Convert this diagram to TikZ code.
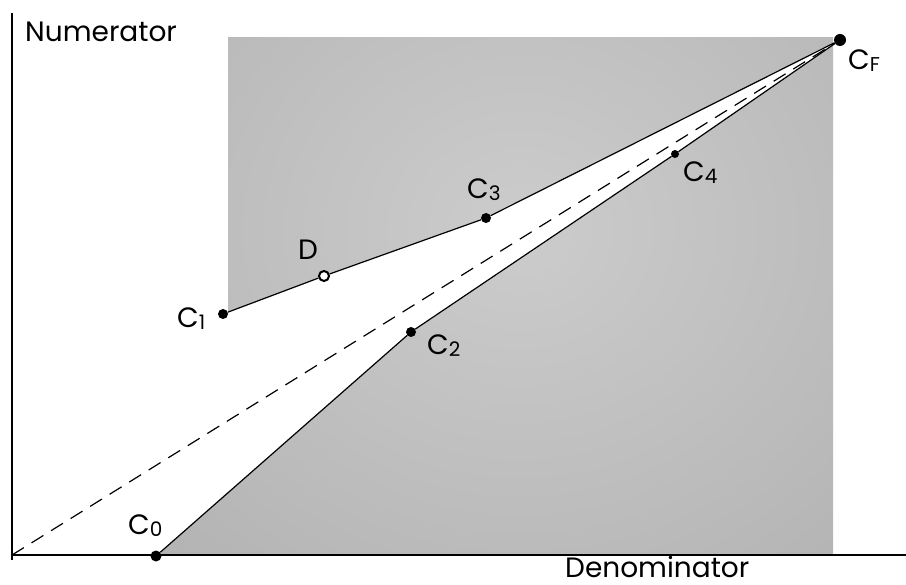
\documentclass[tikz,border=0pt]{standalone}
\usepackage{fontspec}
\setmainfont{Poppins}
\definecolor{plateinner}{gray}{0.80}
\definecolor{plateouter}{gray}{0.60}
\pgfdeclareradialshading{plateshade}{\pgfpoint{0bp}{0bp}}{color(0bp)=(plateinner); color(72bp)=(plateouter); color(80bp)=(plateouter)}
\newcommand{\idx}[1]{\raisebox{-1.5pt}{\fontsize{20}{20}\selectfont #1}}

\begin{document}
\begin{tikzpicture}[x=1pt,y=-1pt,
	dot/.style={circle,fill=black,inner sep=0pt,minimum size=10pt},
	hollow/.style={circle,draw=black,fill=white,line width=2pt,inner sep=0pt,minimum size=10pt},
	tag/.style={anchor=base west,inner sep=0pt,font=\fontsize{28}{28}\selectfont},
	edge/.style={line width=1.2pt},
	axisline/.style={line width=1.6pt}]
	\useasboundingbox (0,0) rectangle (906,585);
	% points of the plot
	\coordinate (o) at (12,555);
	\coordinate (pC0) at (156,556);
	\coordinate (pC1) at (223,314);
	\coordinate (pD) at (324,276);
	\coordinate (pC2) at (411,332);
	\coordinate (pC3) at (486,218);
	\coordinate (pC4) at (675,154);
	\coordinate (pCF) at (840,40);
	
	% shaded plate
	\begin{scope}
		\clip (0,38) rectangle (833,555);
		\clip (pC1) -- (pD) -- (pC3) -- (pCF) -- (906,40) -- (906,0) -- (228,0) -- (228,314) -- cycle
		      (pC0) -- (pC2) -- (pC4) -- (pCF) -- (906,40) -- (906,585) -- (156,585) -- cycle;
		\shade[shading=plateshade] (156,-95) rectangle (884,555);
	\end{scope}
	
	% axes
	\draw[axisline] (12,13) -- (12,560);
	\draw[axisline] (o) -- (906,555);
	
	% points
	\node[dot,minimum size=11pt] (c0) at (pC0) {};
	\node[dot] (c1) at (pC1) {};
	\node[hollow] (d) at (pD) {};
	\node[dot] (c2) at (pC2) {};
	\node[dot] (c3) at (pC3) {};
	\node[dot,minimum size=8pt] (c4) at (pC4) {};
	\node[dot,minimum size=12pt] (cf) at (pCF) {};
	
	% bounds
	\draw[edge] (c1) -- (d) -- (c3) -- (cf);
	\draw[edge] (c0) -- (c2) -- (c4) -- (cf);
	\draw[edge,dash pattern=on 14pt off 9pt] (o) -- (cf);
	
	% labels
	\node[tag] (num) at (25,42) {Numerator};
	\node[tag] (den) at (565,577) {Denominator};
	\node[tag] (lc0) at (128,535) {C\idx{0}};
	\node[tag] (lc1) at (177,328) {C\idx{1}};
	\node[tag] (ld) at (298,260) {D};
	\node[tag] (lc2) at (427,355) {C\idx{2}};
	\node[tag] (lc3) at (467,199) {C\idx{3}};
	\node[tag] (lc4) at (683,182) {C\idx{4}};
	\node[tag] (lcf) at (848,70) {C\idx{F}};
\end{tikzpicture}
\end{document}
